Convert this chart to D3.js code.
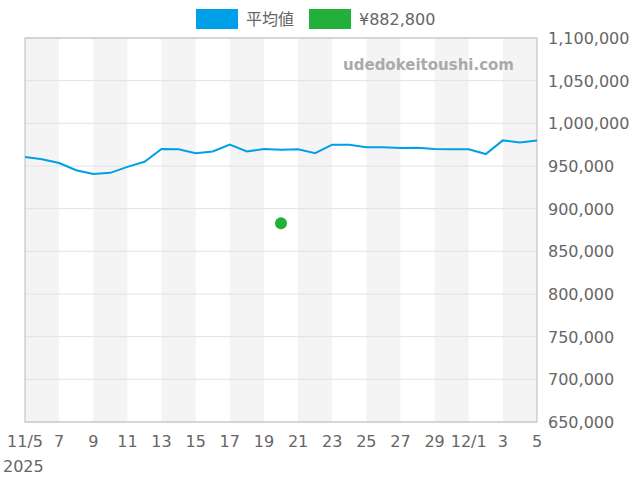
<!DOCTYPE html><html><head><meta charset="utf-8"><script src="https://cdn.jsdelivr.net/npm/d3@7"></script>
<style>body{margin:0}</style></head><body><svg id="c" width="640" height="480"></svg><script>
const days=["2025-11-05","2025-11-06","2025-11-07","2025-11-08","2025-11-09","2025-11-10","2025-11-11","2025-11-12","2025-11-13","2025-11-14","2025-11-15","2025-11-16","2025-11-17","2025-11-18","2025-11-19","2025-11-20","2025-11-21","2025-11-22","2025-11-23","2025-11-24","2025-11-25","2025-11-26","2025-11-27","2025-11-28","2025-11-29","2025-11-30","2025-12-01","2025-12-02","2025-12-03","2025-12-04","2025-12-05"];
const avg=[960500,958000,953500,945000,940600,942000,949000,955000,970000,969500,965000,967000,975000,967000,970000,969000,969500,965000,975000,975000,972000,972000,971000,971500,970000,969500,969500,964000,980000,977500,980000];
const pointDate="2025-11-20", pointVal=882800;
const yTicks=[650000,700000,750000,800000,850000,900000,950000,1000000,1050000,1100000];
const P=d3.timeParse("%Y-%m-%d");
const svg=d3.select("#c"),L=25,R=537,T=38,B=422;
const x=d3.scaleTime().domain([P(days[0]),P(days[days.length-1])]).range([L,R]);
const y=d3.scaleLinear().domain([650000,1100000]).range([B,T]);
const font="DejaVu Sans";
// bands
for(let i=0;i<days.length-1;i+=4){svg.append("rect").attr("x",x(P(days[i]))).attr("y",T).attr("width",x(P(days[i+2]))-x(P(days[i]))).attr("height",B-T).attr("fill","#f4f4f4");}
yTicks.forEach(v=>{svg.append("line").attr("x1",L).attr("x2",R).attr("y1",y(v)).attr("y2",y(v)).attr("stroke","#e2e2e2");
svg.append("text").attr("x",548).attr("y",y(v)+6).text(d3.format(",")(v)).attr("font-family",font).attr("font-size",16).attr("fill","#666");});
svg.append("rect").attr("x",L).attr("y",T).attr("width",R-L).attr("height",B-T).attr("fill","none").attr("stroke","#bbb");
days.forEach((d,i)=>{if(i%2)return;const dt=P(d);const lab=i==0?"11/5":(dt.getDate()==1?"12/1":String(dt.getDate()));
svg.append("text").attr("x",x(dt)).attr("y",447).attr("text-anchor","middle").text(lab).attr("font-family",font).attr("font-size",16).attr("fill","#666");});
svg.append("text").attr("x",3).attr("y",472).text("2025").attr("font-family",font).attr("font-size",16).attr("fill","#666");
svg.append("path").datum(avg).attr("fill","none").attr("stroke","#00a0e8").attr("stroke-width",2)
.attr("d",d3.line().x((v,i)=>x(P(days[i]))).y(v=>y(v)));
svg.append("circle").attr("cx",x(P(pointDate))).attr("cy",y(pointVal)).attr("r",6).attr("fill","#22b03a");
svg.append("text").attr("x",514).attr("y",70).attr("text-anchor","end").text("udedokeitoushi.com").attr("font-family",font).attr("font-weight","bold").attr("font-size",15).attr("fill","#aaa");
svg.append("rect").attr("x",196).attr("y",9).attr("width",42).attr("height",20).attr("fill","#00a0e8");
svg.append("text").attr("x",246).attr("y",25).text("平均値").attr("font-family","Noto Sans CJK JP").attr("font-size",16).attr("fill","#666");
svg.append("rect").attr("x",309).attr("y",9).attr("width",42).attr("height",20).attr("fill","#22b03a");
svg.append("text").attr("x",359).attr("y",25).text("¥882,800").attr("font-family",font).attr("font-size",16).attr("fill","#666");
</script></body></html>
